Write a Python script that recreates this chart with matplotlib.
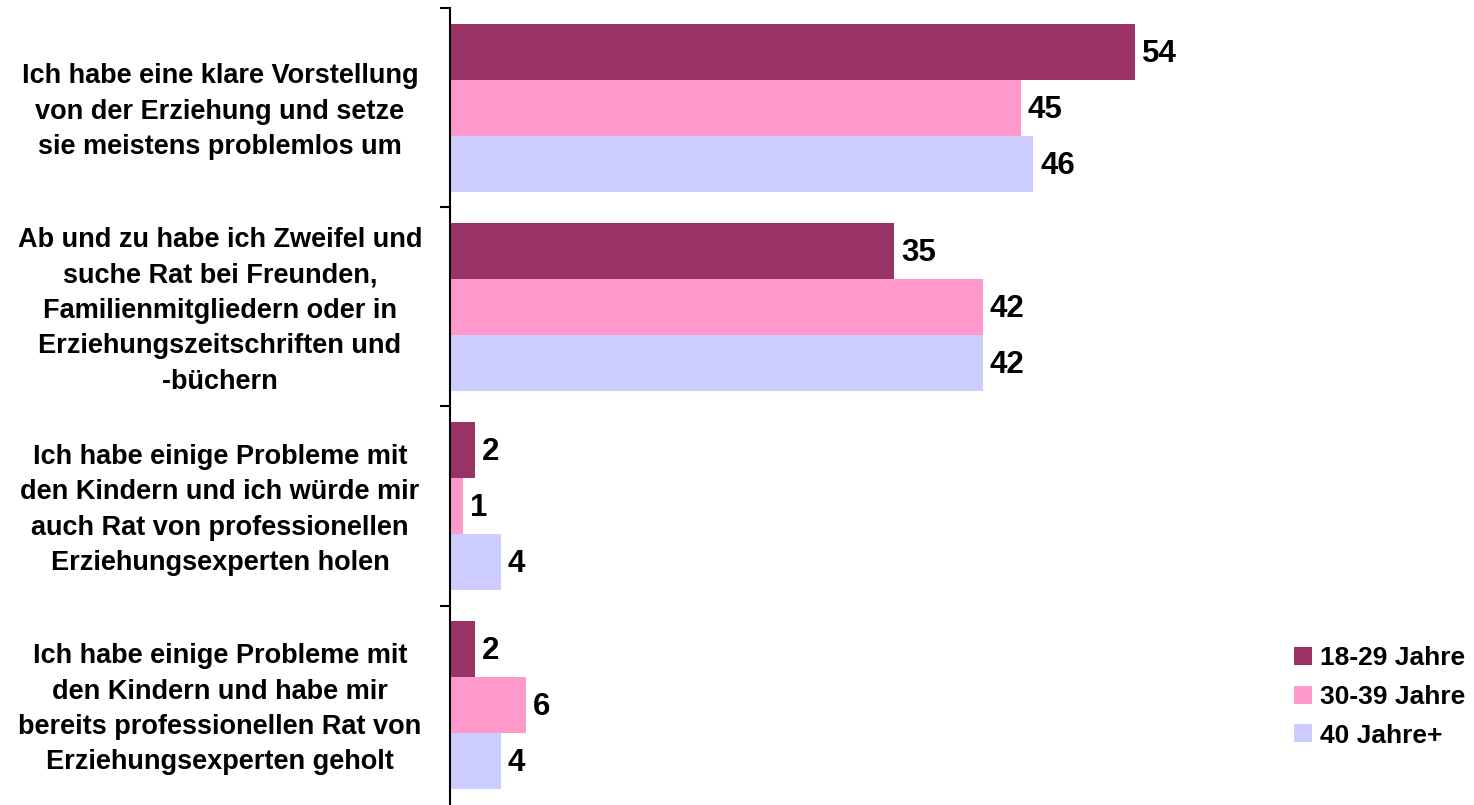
import matplotlib
matplotlib.use("Agg")
import matplotlib.pyplot as plt
import matplotlib.transforms as mtransforms
from matplotlib.patches import Patch
import numpy as np

plt.rcParams['font.family'] = ['Liberation Sans', 'DejaVu Sans']
plt.rcParams['font.weight'] = 'bold'

categories = [
    "Ich habe eine klare Vorstellung\nvon der Erziehung und setze\nsie meistens problemlos um",
    "Ab und zu habe ich Zweifel und\nsuche Rat bei Freunden,\nFamilienmitgliedern oder in\nErziehungszeitschriften und\n-büchern",
    "Ich habe einige Probleme mit\nden Kindern und ich würde mir\nauch Rat von professionellen\nErziehungsexperten holen",
    "Ich habe einige Probleme mit\nden Kindern und habe mir\nbereits professionellen Rat von\nErziehungsexperten geholt",
]
series_names = ["18-29 Jahre", "30-39 Jahre", "40 Jahre+"]
v_18_29 = [54, 35, 2, 2]
v_30_39 = [45, 42, 1, 6]
v_40 = [46, 42, 4, 4]
colors = ["#993366", "#FF99CC", "#CCCCFF"]

W, H = 1474, 805
fig = plt.figure(figsize=(W / 100, H / 100), dpi=100)
ax_left, ax_right, ax_top, ax_bot = 450, 1211, 8, 805
ax = fig.add_axes([ax_left / W, 1 - ax_bot / H, (ax_right - ax_left) / W, (ax_bot - ax_top) / H])

y = np.arange(len(categories))
bh = 0.281
for i, (vals, c, name) in enumerate(zip([v_18_29, v_30_39, v_40], colors, series_names)):
    yy = y + (i - 1) * bh
    ax.barh(yy, vals, height=bh, color=c, label=name, edgecolor='none')
    for yv, v in zip(yy, vals):
        ax.annotate(f"{v}", (v, yv), xytext=(7, -2), textcoords='offset pixels',
                    ha='left', va='center', fontsize=22.5, fontweight='bold')

ax.set_xlim(0, 60)
ax.set_ylim(len(categories) - 0.5, -0.5)
for s in ['top', 'right', 'bottom']:
    ax.spines[s].set_visible(False)
ax.spines['left'].set_linewidth(1.5)
ax.set_xticks([])
ax.set_yticks(np.arange(-0.5, len(categories) - 0.5, 1.0))
ax.set_yticklabels([])
ax.tick_params(axis='y', direction='out', length=7.2, width=1.5)

trans = mtransforms.blended_transform_factory(fig.transFigure, ax.transData)
for yi, lab in zip(y, categories):
    ax.text(220 / W, yi + 0.02, lab, transform=trans, ha='center', va='center',
            multialignment='center', fontsize=19.5, fontweight='bold', linespacing=1.47)

handles = [Patch(facecolor=c, edgecolor='none') for c in colors]
fig.legend(handles, series_names, loc='center left', bbox_to_anchor=(1294 / W, 1 - 697 / H),
           frameon=False, handlelength=0.68, handleheight=0.68, borderaxespad=0,
           handletextpad=0.3, labelspacing=0.55, borderpad=0, prop={'weight': 'bold', 'size': 19})

fig.savefig("out.png", dpi=100)
